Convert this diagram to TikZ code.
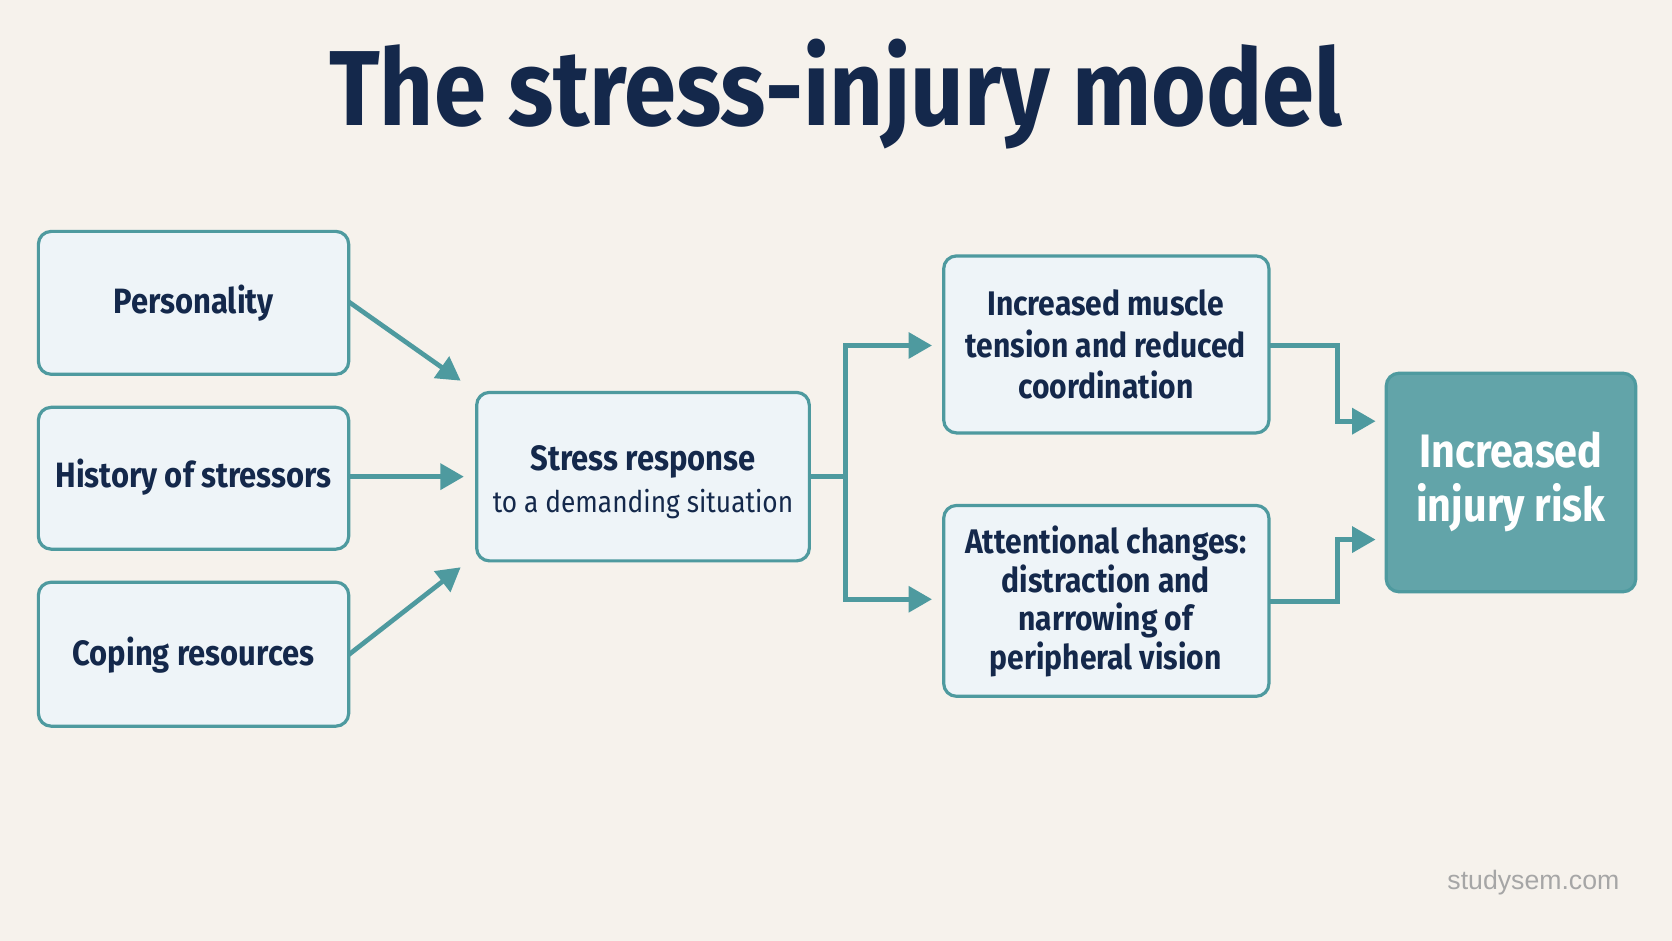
\documentclass[tikz,border=0pt]{standalone}
\usepackage{fontspec}
\setmainfont{Fira Sans}[FakeStretch=0.88]
\newfontfamily\wm{Liberation Sans}
\definecolor{bg}{HTML}{F6F2EC}
\definecolor{bfill}{HTML}{EEF4F8}
\definecolor{teal}{HTML}{4E9A9F}
\definecolor{rfill}{HTML}{62A4A9}
\definecolor{navy}{HTML}{14284B}
\usetikzlibrary{arrows.meta}
\begin{document}
\begin{tikzpicture}[x=0.5pt,y=-0.5pt,
 bx/.style={draw=teal,fill=bfill,line width=1.5pt,rounded corners=6pt},
 lbl/.style={text=navy,font=\fontsize{16.5}{19}\selectfont\bfseries,align=center},
 ar/.style={draw=teal,line width=2.2pt,-{Triangle[length=11pt,width=12pt]}},
 ln/.style={draw=teal,line width=2.2pt}]
\fill[bg] (0,0) rectangle (1568,882);
\useasboundingbox (0,0) rectangle (1568,882);
\node[text=navy,font=\fontsize{50}{56}\selectfont\bfseries] (title) at (784,88) {The stress-injury model};
\draw[bx] (36,217) rectangle (327,351); \node[lbl] (p) at (181.5,284) {Personality};
\draw[bx] (36,382) rectangle (327,515); \node[lbl] (h) at (181.5,447) {History of stressors};
\draw[bx] (36,546) rectangle (327,681); \node[lbl] (c) at (181.5,614) {Coping resources};
\draw[bx] (447,368) rectangle (759,526);
\node[lbl] (s) at (603,433) {Stress response};
\node[text=navy,font=\fontsize{14}{17}\selectfont] (s2) at (603,473) {to a demanding situation};
\draw[bx] (885,240) rectangle (1190,406);
\node[lbl,font=\fontsize{16}{19.5}\selectfont\bfseries] (m) at (1037,323) {Increased muscle\\tension and reduced\\coordination};
\draw[bx] (885,474) rectangle (1190,653);
\node[lbl,font=\fontsize{16}{18}\selectfont\bfseries] (a) at (1037,564) {Attentional changes:\\distraction and\\narrowing of\\peripheral vision};
\draw[bx,fill=rfill] (1300,350) rectangle (1534,555);
\node[text=white,font=\fontsize{22}{25}\selectfont\bfseries,align=center] (r) at (1417,452) {Increased\\injury risk};
\coordinate (p1) at (327,283); \coordinate (p2) at (432,357);
\coordinate (h1) at (327,447); \coordinate (h2) at (435,447);
\coordinate (c1) at (327,614); \coordinate (c2) at (432,532);
\draw[ar] (p1) -- (p2); \draw[ar] (h1) -- (h2); \draw[ar] (c1) -- (c2);
\coordinate (so) at (759,447); \coordinate (sj) at (793,447);
\coordinate (mi) at (874,324); \coordinate (ai) at (874,562);
\draw[ln] (so) -- (sj);
\draw[ar] (sj) |- (mi); \draw[ar] (sj) |- (ai);
\coordinate (mo) at (1190,324); \coordinate (mj) at (1254,324); \coordinate (ri1) at (1290,395);
\coordinate (ao) at (1190,564); \coordinate (aj) at (1254,564); \coordinate (ri2) at (1290,506);
\draw[ar] (mo) -- (mj) |- (ri1);
\draw[ar] (ao) -- (aj) |- (ri2);
\node[text=gray!70,font=\wm\fontsize{12.5}{14}\selectfont] (w) at (1438,828) {studysem.com};
\end{tikzpicture}
\end{document}
